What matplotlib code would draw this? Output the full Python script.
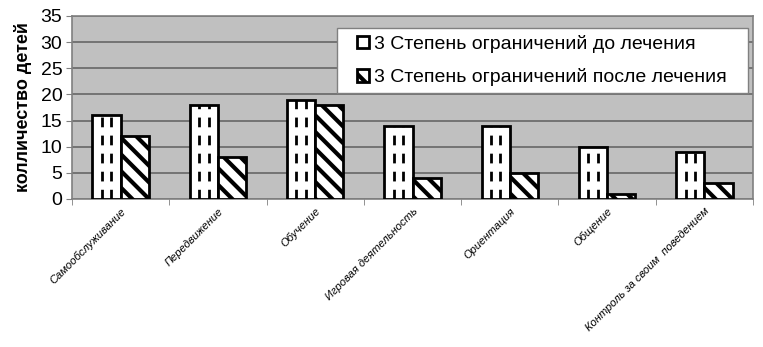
import numpy as np
import matplotlib.pyplot as plt
from matplotlib.patches import Rectangle

plt.rcParams['font.family'] = ['Liberation Sans', 'DejaVu Sans']
plt.rcParams['hatch.linewidth'] = 3.0

categories = ["Самообслуживание", "Передвижение", "Обучение", "Игровая деятельность",
              "Ориентация", "Общение", "Контроль за своим  поведением"]
before = [16, 18, 19, 14, 14, 10, 9]
after = [12, 8, 18, 4, 5, 1, 3]
label_before = "3 Степень ограничений до лечения"
label_after = "3 Степень ограничений после лечения"

fig = plt.figure(figsize=(7.63, 3.47), dpi=100)
ax = fig.add_axes([72/763, 1 - 199/347, 681/763, 183/347])
ax.set_facecolor('#c0c0c0')

x = np.arange(len(categories))
w = 0.29
b1 = ax.bar(x - w/2, before, w, color='white', edgecolor='black', linewidth=2, zorder=3,
            label=label_before)
b2 = ax.bar(x + w/2, after, w, color='white', edgecolor='black', linewidth=2, hatch='\\\\',
            zorder=3, label=label_after)

# dashed vertical lines inside the "before" bars
for r in b1:
    for f in (1/3, 2/3):
        xx = r.get_x() + r.get_width() * f
        ax.plot([xx, xx], [0, r.get_height()], color='black', lw=2,
                linestyle=(0, (3.5, 3)), zorder=4)

ax.set_xlim(-0.5, len(categories) - 0.5)
ax.set_ylim(0, 35)
ax.set_yticks(range(0, 36, 5))
ax.yaxis.grid(True, color='#666666', linewidth=1.2)
ax.set_axisbelow(True)
ax.tick_params(axis='y', labelsize=14, length=4, color='#808080', pad=3)
ax.set_xticks(x)
ax.set_xticklabels(categories, rotation=45, ha='right', rotation_mode='anchor',
                   fontsize=8, style='italic')
ax.tick_params(axis='x', length=0, pad=5)
ax.set_xticks(np.arange(len(categories) + 1) - 0.5, minor=True)
ax.tick_params(axis='x', which='minor', length=4, color='#808080')
for s in ax.spines.values():
    s.set_color('#808080')
    s.set_linewidth(1.2)
ax.set_ylabel('колличество детей', fontsize=13, fontweight='bold', labelpad=6)

# legend box (wider horizontal padding than matplotlib's legend frame allows)
box = Rectangle((337/763, 1 - 93/347), 411/763, 65/347, transform=fig.transFigure,
                facecolor='white', edgecolor='#808080', linewidth=1, zorder=4.5,
                clip_on=False)
ax.add_artist(box)
leg = ax.legend(loc='upper left', bbox_to_anchor=(353/763, 1 - 31/347),
                bbox_transform=fig.transFigure, fontsize=14, frameon=False,
                borderpad=0.2, labelspacing=0.8,
                handlelength=0.6, handleheight=0.6, handletextpad=0.3, borderaxespad=0)
leg.set_zorder(5)

fig.savefig('out.png', dpi=100)
